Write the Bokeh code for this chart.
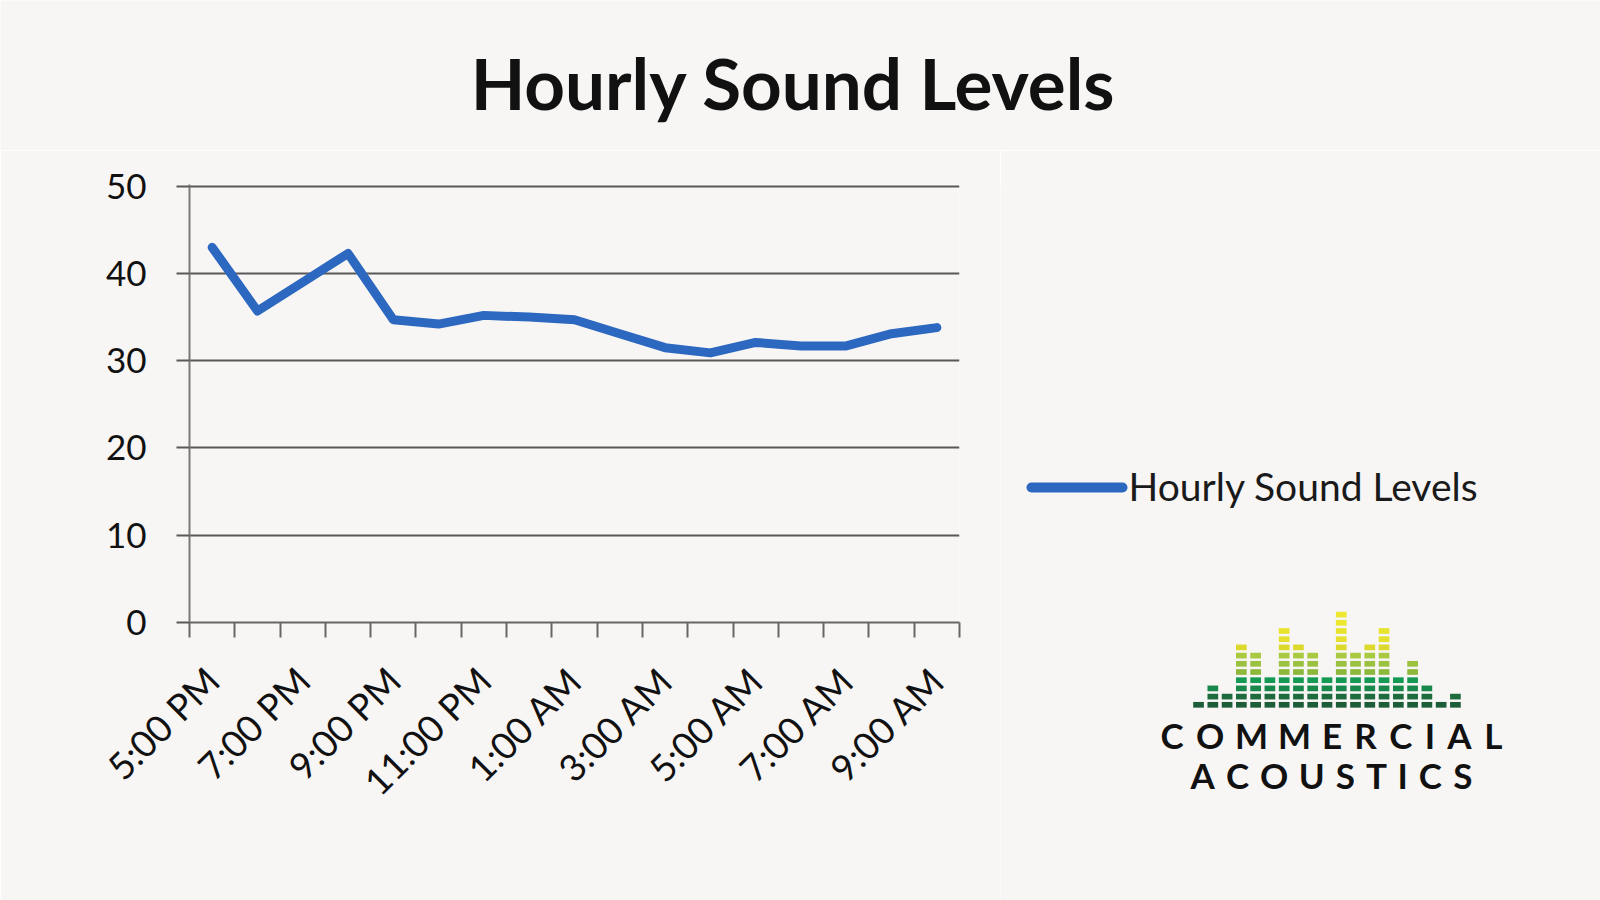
import numpy as np
from bokeh.plotting import figure
from bokeh.layouts import column, row
from bokeh.models import Range1d, FixedTicker
from bokeh.core.properties import value
from bokeh.embed import file_html
from bokeh.resources import INLINE

# ---------------- data ----------------
title_text = "Hourly Sound Levels"
series_name = "Hourly Sound Levels"
hours = ["5:00 PM", "6:00 PM", "7:00 PM", "8:00 PM", "9:00 PM", "10:00 PM",
         "11:00 PM", "12:00 AM", "1:00 AM", "2:00 AM", "3:00 AM", "4:00 AM",
         "5:00 AM", "6:00 AM", "7:00 AM", "8:00 AM", "9:00 AM"]
sound_levels = [43.0, 35.7, 39.0, 42.3, 34.7, 34.2, 35.2, 35.0, 34.7,
                33.1, 31.5, 30.9, 32.1, 31.7, 31.7, 33.1, 33.8]
y_ticks = [0, 10, 20, 30, 40, 50]
label_every = 2
logo_levels = [1, 3, 2, 8, 7, 4, 10, 8, 7, 4, 12, 7, 8, 10, 4, 6, 3, 1, 2]
logo_words = ["COMMERCIAL", "ACOUSTICS"]

# ---------------- styles ----------------
BG = "#F8F6F5"
BLUE = "#2D68C0"
GRID = "#585858"
FONT = "Lato"
MID = 0.39  # em offset from alphabetic baseline to 'middle'
row_colors = ["#1D5E38", "#1E6C3D", "#18874A", "#149A52", "#8DB83C", "#9BC23E",
              "#A9C940", "#DCD92C", "#E4E02C", "#E8E42E", "#ECE72F", "#EEE930"]

def blank(w, h, y_shift=0):
    f = figure(frame_width=w, frame_height=h,
               x_range=Range1d(0, w), y_range=Range1d(y_shift, h + y_shift),
               x_axis_type=None, y_axis_type=None, toolbar_location=None,
               title_location=None, output_backend="svg", min_border=0,
               min_border_left=0, min_border_right=0,
               min_border_top=0, min_border_bottom=0, align="start")
    f.outline_line_color = None
    f.background_fill_color = BG
    f.border_fill_color = BG
    return f

# ---------------- title strip ----------------
t = blank(1600, 150)
tfs = 71
t.text(x=[793], y=[40 + MID * tfs], text=[title_text], text_align="center",
       text_baseline="middle", text_font=value(FONT), text_font_style="bold",
       text_font_size=f"{tfs}px", text_color="#111111")

# ---------------- main chart ----------------
n = len(hours)
xs = np.arange(n) + 0.5
p = figure(frame_width=770, frame_height=438, x_range=Range1d(0, n),
           y_range=Range1d(0, 50.2), title_location=None,
           toolbar_location=None, output_backend="svg", align="start",
           min_border_left=189, min_border_right=41, min_border_top=34,
           min_border_bottom=278)
p.outline_line_color = None
p.background_fill_color = BG
p.border_fill_color = BG

p.line(xs, sound_levels, line_width=9, line_color=BLUE,
       line_join="round", line_cap="round")

major = [float(x) for x in xs[::label_every]]
p.xaxis.ticker = FixedTicker(ticks=major, minor_ticks=list(range(n + 1)))
p.xaxis.major_label_overrides = {float(xs[i]): hours[i] for i in range(0, n, label_every)}
p.xaxis.major_label_orientation = np.pi / 4
p.xaxis.major_tick_line_color = None
p.xaxis.major_tick_out = 0
p.xaxis.major_tick_in = 0
p.xaxis.minor_tick_out = 15
p.xaxis.minor_tick_in = 0
p.xaxis.minor_tick_line_color = "#666666"
p.xaxis.minor_tick_line_width = 2
p.xaxis.axis_line_color = "#666666"
p.xaxis.axis_line_width = 2
p.xaxis.major_label_standoff = 36
p.xaxis.major_label_text_font = FONT
p.xaxis.major_label_text_font_size = "37px"
p.xaxis.major_label_text_color = "#111111"
p.xgrid.visible = False

p.yaxis.ticker = FixedTicker(ticks=y_ticks)
p.yaxis.major_tick_out = 13
p.yaxis.major_tick_in = 0
p.yaxis.major_tick_line_color = GRID
p.yaxis.major_tick_line_width = 2
p.yaxis.minor_tick_line_color = None
p.yaxis.axis_line_color = "#7A7A7A"
p.yaxis.axis_line_width = 2
p.yaxis.major_label_standoff = 30
p.yaxis.major_label_text_font = FONT
p.yaxis.major_label_text_font_size = "35px"
p.yaxis.major_label_text_color = "#111111"
p.ygrid.ticker = FixedTicker(ticks=y_ticks)
p.ygrid.grid_line_color = GRID
p.ygrid.grid_line_width = 2

# ---------------- legend + logo panel ----------------
q = blank(600, 750, y_shift=-33)
lfs = 39
q.line([31, 122], [414, 414], line_width=10, line_color=BLUE, line_cap="round")
q.text(x=[128], y=[400 + MID * lfs], text=[series_name], text_align="left",
       text_baseline="middle", text_font=value(FONT), text_font_size=f"{lfs}px",
       text_color="#1A1A1A")

# equalizer logo
x0, pitch, cw = 192.7, 14.27, 10.7
y0, rpitch, ch = 196.7, 8.2, 5.7
bx, by, bc = [], [], []
for i, lv in enumerate(logo_levels):
    for r in range(lv):
        bx.append(x0 + cw / 2 + i * pitch)
        by.append(y0 + r * rpitch)
        bc.append(row_colors[r])
q.rect(x=bx, y=by, width=cw, height=ch, fill_color=bc, line_color=None)

# logo lettering with tracking
em_w = {"C": .66, "O": .78, "M": .86, "E": .56, "R": .62, "I": .27, "A": .69,
        "L": .52, "U": .72, "S": .55, "T": .58}
fs = 35
cx = 331
for word, base, span in zip(logo_words, [153.3, 113.3], [342, 282]):
    widths = [em_w[c] * fs for c in word]
    track = (span - sum(widths)) / (len(word) - 1)
    x = cx - span / 2
    lx, ly, lt = [], [], []
    for c, w in zip(word, widths):
        lx.append(x + w / 2)
        ly.append(base + MID * fs)
        lt.append(c)
        x += w + track
    q.text(x=lx, y=ly, text=lt, text_align="center", text_baseline="middle",
           text_font=value(FONT), text_font_style="bold", text_font_size=f"{fs}px",
           text_color="#111111")

layout = column(t, row(p, q))
open("out.html", "w").write(file_html(layout, INLINE))
